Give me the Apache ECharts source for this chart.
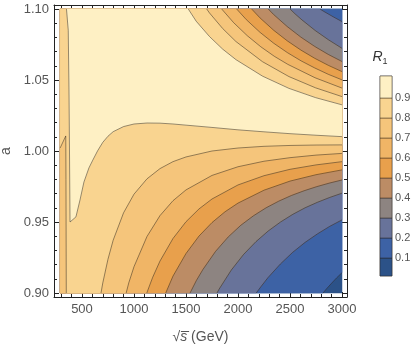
<!DOCTYPE html>
<html><head><meta charset="utf-8">
<script src="https://cdn.jsdelivr.net/npm/echarts@6/dist/echarts.min.js"></script>
<style>html,body{margin:0;padding:0;background:#fff}#c{width:420px;height:350px}</style>
</head><body><div id="c"></div><script>
// ---------- data ----------
const sqrtSDomain = [290, 3000];      // GeV
const aDomain = [0.9, 1.1];
const xMajorTicks = [500, 1000, 1500, 2000, 2500, 3000];
const xMinorTicks = [300, 400, 600, 700, 800, 900, 1100, 1200, 1300, 1400, 1600, 1700, 1800, 1900,
  2100, 2200, 2300, 2400, 2600, 2700, 2800, 2900];
const yMajorTicks = [0.9, 0.95, 1.0, 1.05, 1.1];
const yMinorTicks = [0.91, 0.92, 0.93, 0.94, 0.96, 0.97, 0.98, 0.99, 1.01, 1.02, 1.03, 1.04, 1.06, 1.07, 1.08, 1.09];
const contourLevels = [0.1, 0.2, 0.3, 0.4, 0.5, 0.6, 0.7, 0.8, 0.9];
const legendRange = [0.01, 1.01];
const bandColors = ['#2c5288', '#3d62a5', '#68739a', '#8d8481', '#bc8c65',
  '#e8a04c', '#f0b566', '#f5c57b', '#f9d490', '#fef0c4'];

// contour lines, [sqrt(s), a]; upper branch runs from top edge to right edge
const upper09 = [[1522,1.1],[1598,1.0914],[1726,1.0806],[1853,1.0717],[1981,1.0643],[2236,1.0527],[2490,1.0441],[2745,1.0376],[3000,1.0325]];
const upper08 = [[1699,1.1],[1726,1.0972],[1853,1.0862],[1980,1.0771],[2235,1.0629],[2490,1.0524],[2745,1.0445],[3000,1.0383]];
const upper07 = [[1843,1.1],[1959,1.0903],[2089,1.0812],[2219,1.0734],[2349,1.0667],[2479,1.061],[2740,1.0516],[3000,1.0443]];
const upper06 = [[1987,1.1],[2080,1.0925],[2211,1.0836],[2343,1.0759],[2474,1.0693],[2606,1.0635],[2737,1.0585],[2868,1.054],[3000,1.0501]];
const upper05 = [[2131,1.1],[2212,1.0937],[2343,1.085],[2475,1.0775],[2606,1.071],[2737,1.0653],[2869,1.0603],[3000,1.0559]];
const upper04 = [[2291,1.1],[2341,1.0962],[2472,1.0877],[2604,1.0802],[2736,1.0737],[2868,1.068],[3000,1.063]];
const upper03 = [[2500,1.1],[2548,1.0966],[2615,1.0923],[2743,1.0848],[2872,1.0782],[3000,1.0723]];
const upper02 = [[2788,1.1],[2818,1.0986],[2913,1.0946],[3000,1.0911]];
// lower branch runs from bottom edge (or threshold) to right edge
const lower09 = [[351,1.1],[368,1.085],[375,1.043],[380,1.0],[385,0.95],[442,0.9536],[481,0.9655],[519,0.9782],[567,0.9881],[600,0.993],[650,1.0001],[700,1.0061],[750,1.0104],[800,1.0136],[900,1.0172],[1000,1.019],[1125,1.0197],[1250,1.0196],[1375,1.019],[1500,1.0182],[1750,1.0166],[2000,1.0149],[2250,1.0135],[2500,1.0122],[2750,1.0111],[3000,1.0101]];
const lower08 = [[683,0.9],[700,0.9071],[750,0.9238],[800,0.9372],[900,0.9565],[1000,0.9696],[1125,0.9804],[1250,0.9876],[1375,0.9925],[1500,0.9958],[1750,1.0],[2000,1.0021],[2250,1.0033],[2500,1.0039],[2750,1.0042],[3000,1.0043]];
const lower07 = [[925,0.9],[950,0.9072],[1000,0.9185],[1125,0.9398],[1250,0.9545],[1375,0.965],[1500,0.9726],[1750,0.9828],[2000,0.9889],[2250,0.9928],[2500,0.9953],[2750,0.9971],[3000,0.9983]];
const lower06 = [[1123,0.9],[1180,0.9111],[1250,0.9225],[1375,0.9384],[1500,0.9502],[1625,0.9592],[1750,0.9662],[2000,0.9761],[2250,0.9826],[2500,0.9871],[2750,0.9902],[3000,0.9925]];
const lower05 = [[1305,0.9],[1375,0.9119],[1500,0.9278],[1625,0.9401],[1750,0.9496],[1875,0.9572],[2000,0.9633],[2250,0.9724],[2500,0.9788],[2750,0.9833],[3000,0.9867]];
const lower04 = [[1539,0.9],[1599,0.9087],[1663,0.9166],[1784,0.9293],[1906,0.9395],[2027,0.9477],[2149,0.9544],[2270,0.96],[2392,0.9647],[2514,0.9687],[2635,0.972],[2757,0.9749],[2878,0.9774],[3000,0.9796]];
const lower03 = [[1798,0.9],[1818,0.9027],[1936,0.9162],[2054,0.9272],[2173,0.9362],[2291,0.9437],[2409,0.95],[2527,0.9554],[2645,0.96],[2764,0.9639],[2882,0.9673],[3000,0.9703]];
const lower02 = [[2175,0.9],[2222,0.9046],[2288,0.9108],[2407,0.9204],[2525,0.9286],[2644,0.9356],[2763,0.9416],[2881,0.9469],[3000,0.9515]];
const lower01 = [[2818,0.9],[2848,0.9027],[2895,0.9065],[2949,0.9107],[3000,0.9143]];
// 0.8 contour piece at the ttbar threshold
const thresh08 = [[290,1.0021],[344,1.0106],[346,0.98],[349,0.9]];

// ---------- build superlevel regions ----------
const X0 = sqrtSDomain[0], X1 = sqrtSDomain[1], Y0 = aDomain[0], Y1 = aDomain[1];
const rev = a => a.slice().reverse();
const regions = [
  {band: 0, pts: [[X0,Y0],[X1,Y0],[X1,Y1],[X0,Y1]]},
  {band: 1, pts: [[X0,Y1],[X1,Y1]].concat(rev(lower01), [[X0,Y0]])},
  {band: 2, pts: [[X0,Y1]].concat(upper02, rev(lower02), [[X0,Y0]])},
  {band: 3, pts: [[X0,Y1]].concat(upper03, rev(lower03), [[X0,Y0]])},
  {band: 4, pts: [[X0,Y1]].concat(upper04, rev(lower04), [[X0,Y0]])},
  {band: 5, pts: [[X0,Y1]].concat(upper05, rev(lower05), [[X0,Y0]])},
  {band: 6, pts: [[X0,Y1]].concat(upper06, rev(lower06), [[X0,Y0]])},
  {band: 7, pts: [[X0,Y1]].concat(upper07, rev(lower07), [[X0,Y0]])},
  {band: 8, pts: [[X0,Y1]].concat(upper08, rev(lower08), rev(thresh08))},
  {band: 9, pts: upper09.concat(rev(lower09))}
];
const lines = [upper09, upper08, upper07, upper06, upper05, upper04, upper03, upper02,
  lower09, lower08, lower07, lower06, lower05, lower04, lower03, lower02, lower01, thresh08];

const legendEdges = [legendRange[0]].concat(contourLevels, [legendRange[1]]);
const legendBands = bandColors.map((c, i) => [0, legendEdges[i], legendEdges[i + 1], i]);

const labelColor = '#555';
const font = 'Liberation Sans, Arial, sans-serif';
const frameLine = {show: true, lineStyle: {color: '#222', width: 1}};
function xAx(pos, vals, len, label, line, name) {
  return {type: 'value', gridIndex: 0, position: pos, min: 231, max: 3048,
    axisLine: line ? frameLine : {show: false}, splitLine: {show: false},
    axisTick: {show: true, inside: true, length: len, customValues: vals, lineStyle: {color: '#222', width: 1}},
    axisLabel: {show: label, customValues: vals, color: labelColor, fontSize: 13, fontFamily: font, margin: 6,
      formatter: v => String(Math.round(v))},
    ...(name || {})};
}
function yAx(pos, vals, len, label, line, name) {
  return {type: 'value', gridIndex: 0, position: pos, min: 0.8972, max: 1.1028,
    axisLine: line ? frameLine : {show: false}, splitLine: {show: false},
    axisTick: {show: true, inside: true, length: len, customValues: vals, lineStyle: {color: '#222', width: 1}},
    axisLabel: {show: label, customValues: vals, color: labelColor, fontSize: 13, fontFamily: font, margin: 5,
      formatter: v => v.toFixed(2)},
    ...(name || {})};
}

const chart = echarts.init(document.getElementById('c'), null, {renderer: 'canvas'});
chart.setOption({
  animation: false,
  backgroundColor: '#fff',
  grid: [
    {left: 54, top: 5, width: 293, height: 292, outerBoundsMode: 'none', containLabel: false},
    {left: 380, top: 76, width: 12, height: 200, show: true, borderColor: '#999', borderWidth: 1,
      outerBoundsMode: 'none', containLabel: false}
  ],
  xAxis: [
    xAx('bottom', xMajorTicks, 5, true, true, {
      name: '{r|√}{s|s\u0305} (GeV)', nameLocation: 'middle', nameGap: 33,
      nameTextStyle: {color: labelColor, fontSize: 14, fontFamily: font,
        rich: {r: {fontSize: 14, color: labelColor, fontFamily: font},
               s: {fontSize: 14, fontStyle: 'italic', color: labelColor, fontFamily: font}}}}),
    xAx('bottom', xMinorTicks, 3, false, false),
    xAx('top', xMajorTicks, 5, false, true),
    xAx('top', xMinorTicks, 3, false, false),
    {type: 'value', gridIndex: 1, min: 0, max: 1, show: false}
  ],
  yAxis: [
    yAx('left', yMajorTicks, 5, true, true, {
      name: 'a', nameLocation: 'middle', nameGap: 33, nameRotate: 90,
      nameTextStyle: {color: labelColor, fontSize: 14, fontFamily: font}}),
    yAx('left', yMinorTicks, 3, false, false),
    yAx('right', yMajorTicks, 5, false, true),
    yAx('right', yMinorTicks, 3, false, false),
    {type: 'value', gridIndex: 1, position: 'right', min: legendRange[0], max: legendRange[1],
      axisLine: {show: false}, splitLine: {show: false},
      axisTick: {show: true, inside: false, length: 4, customValues: contourLevels, lineStyle: {color: '#777'}},
      axisLabel: {show: true, customValues: contourLevels, color: labelColor, fontSize: 11, fontFamily: font, margin: 3,
        formatter: v => v.toFixed(1)},
      name: '{r|R}{sub|1}', nameLocation: 'end', nameGap: 10,
      nameTextStyle: {align: 'center', rich: {
        r: {fontSize: 14, fontStyle: 'italic', color: '#333', fontFamily: font},
        sub: {fontSize: 9, color: '#333', fontFamily: font, verticalAlign: 'bottom', padding: [8, 0, 0, 0]}}}}
  ],
  series: [
    {type: 'custom', xAxisIndex: 0, yAxisIndex: 0, clip: true, z: 1,
      data: regions.map((r, i) => [X0, Y0, i]),
      renderItem: (params, api) => {
        const r = regions[params.dataIndex];
        return {type: 'polygon', shape: {points: r.pts.map(p => api.coord(p))},
          style: {fill: bandColors[r.band], stroke: bandColors[r.band], lineWidth: 0.5}};
      }},
    {type: 'custom', xAxisIndex: 0, yAxisIndex: 0, clip: true, z: 2,
      data: lines.map((l, i) => [X0, Y0, i]),
      renderItem: (params, api) => {
        const l = lines[params.dataIndex];
        return {type: 'polyline', shape: {points: l.map(p => api.coord(p))},
          style: {fill: null, stroke: 'rgba(40,30,20,0.55)', lineWidth: 0.9}};
      }},
    {type: 'custom', xAxisIndex: 4, yAxisIndex: 4, clip: false, z: 1,
      data: legendBands,
      renderItem: (params, api) => {
        const p0 = api.coord([0, api.value(2)]);
        const p1 = api.coord([1, api.value(1)]);
        return {type: 'rect', shape: {x: p0[0], y: p0[1], width: p1[0] - p0[0], height: p1[1] - p0[1]},
          style: {fill: bandColors[api.value(3)], stroke: 'rgba(40,30,20,0.55)', lineWidth: 0.8}};
      }}
  ]
});
</script></body></html>
